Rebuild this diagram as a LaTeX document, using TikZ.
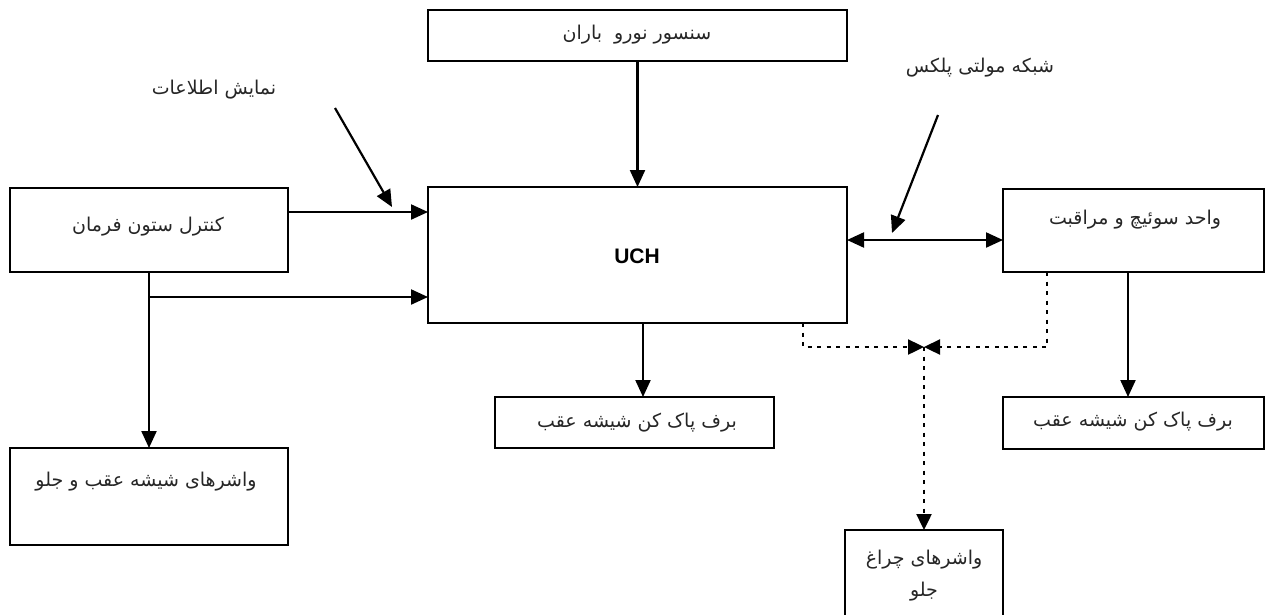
\documentclass[tikz,border=0pt]{standalone}
\usepackage{fontspec}
\setmainfont{DejaVu Sans}
\newfontfamily\fa[Script=Arabic]{DejaVu Sans}
\newfontfamily\lat{Liberation Sans}
\TeXXeTstate=1
\usetikzlibrary{arrows.meta}
\tikzset{
  box/.style={draw, line width=2.2pt, inner sep=0pt, outer sep=0pt},
  arr/.style={line width=2.2pt, -{Triangle[length=17pt,width=15pt]}},
  darr/.style={line width=2.2pt, {Triangle[length=17pt,width=15pt]}-{Triangle[length=17pt,width=15pt]}},
  dots/.style={line width=2.4pt, dash pattern=on 4pt off 5.5pt, -{Triangle[length=16pt,width=15pt]}},
  lbl/.style={font=\fa\fontsize{19}{24}\selectfont, inner sep=0pt, text=black!85}
}
\begin{document}
\begin{tikzpicture}[x=1pt,y=-1pt]
\useasboundingbox (0,0) rectangle (1266,614);
\fill[white] (0,0) rectangle (1266,614);

% boxes
\node[box, minimum width=419pt, minimum height=51pt] (sensor) at (637.5,35.5) {};
\node[box, minimum width=419pt, minimum height=136pt] (uch) at (637.5,255) {};
\node[box, minimum width=278pt, minimum height=84pt] (ctrl) at (149,230) {};
\node[box, minimum width=278pt, minimum height=97pt] (wash) at (149,496.5) {};
\node[box, minimum width=279pt, minimum height=51pt] (wip1) at (634.5,422.5) {};
\node[box, minimum width=261pt, minimum height=83pt] (sw) at (1133.5,230.5) {};
\node[box, minimum width=261pt, minimum height=52pt] (wip2) at (1133.5,423) {};
\node[box, minimum width=158pt, minimum height=88pt] (head) at (924,574) {};

% texts
\node[lbl] (tsensor) at (637,35) {\beginR سنسور نورو~ باران\endR};
\node[font=\lat\bfseries\fontsize{21}{25}\selectfont, inner sep=0pt] (tuch) at (637,256) {UCH};
\node[lbl] (tctrl) at (148,227) {\beginR کنترل ستون فرمان\endR};
\node[lbl] (twash) at (146,482) {\beginR واشرهای شیشه عقب و جلو\endR};
\node[lbl] (twip1) at (637,423) {\beginR برف پاک کن شیشه عقب\endR};
\node[lbl] (tsw) at (1135,220) {\beginR واحد سوئیچ و مراقبت\endR};
\node[lbl] (twip2) at (1133,422) {\beginR برف پاک کن شیشه عقب\endR};
\node[lbl] (thead1) at (924,560) {\beginR واشرهای چراغ\endR};
\node[lbl] (thead2) at (924,592) {\beginR جلو\endR};
\node[lbl] (tinfo) at (214,90) {\beginR نمایش اطلاعات\endR};
\node[lbl] (tmux) at (980,68) {\beginR شبکه مولتی پلکس\endR};

% coordinates
\coordinate (i1) at (335,108);
\coordinate (i2) at (392,207);
\coordinate (m1) at (938,115);
\coordinate (m2) at (892,233);
\coordinate (j1) at (149,297);
\coordinate (jn) at (924,347);

% connectors
\draw[arr] (sensor.south) -- (uch.north);
\draw[arr] ([yshift=18pt]ctrl.east) -- ([yshift=18pt]ctrl.east -| uch.west);
\draw[line width=2.2pt] (ctrl.south) -- (j1);
\draw[arr] (j1) -- (wash.north);
\draw[arr] (j1) -- (j1 -| uch.west);
\draw[arr] (i1) -- (i2);
\draw[arr] (m1) -- (m2);
\draw[arr] ([xshift=5.5pt]uch.south) -- ([xshift=5.5pt]uch.south |- wip1.north);
\draw[darr] ([yshift=15pt]uch.east) -- ([yshift=15pt]uch.east -| sw.west);
\draw[arr] ([xshift=-5.5pt]sw.south) -- ([xshift=-5.5pt]sw.south |- wip2.north);
\draw[dots] ([xshift=-44pt]uch.south east) |- (jn);
\draw[dots] ([xshift=-86.5pt]sw.south) |- (jn);
\draw[dots] (jn) -- (head.north);
\end{tikzpicture}
\end{document}
